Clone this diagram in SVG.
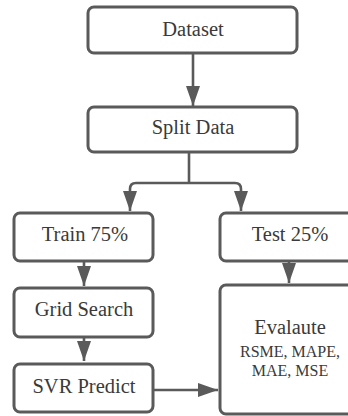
<svg xmlns="http://www.w3.org/2000/svg" width="348" height="416" viewBox="0 0 348 416">
  <style>
    .box { fill: #ffffff; stroke: #5a5a5a; stroke-width: 3; }
    .lbl { font-size: 20.5px; fill: #3a3a3a; text-anchor: middle; }
    .sub { font-size: 16px; fill: #3a3a3a; text-anchor: middle; }
    .wire { fill: none; stroke: #5a5a5a; stroke-width: 2.6; }
  </style>
  <defs>
    <marker id="head" viewBox="0 0 20 14" refX="20" refY="7" markerWidth="20" markerHeight="14" markerUnits="userSpaceOnUse" orient="auto">
      <path d="M0,0 L20,7 L0,14 Z" fill="#5a5a5a"/>
    </marker>
  </defs>
  <rect width="348" height="416" fill="#ffffff"/>

  <g id="connectors">
    <path class="wire" d="M193,53 V106" marker-end="url(#head)"/>
    <path class="wire" d="M189,152 V183"/>
    <path class="wire" d="M189,183 H136 Q130,183 130,189 V211" marker-end="url(#head)"/>
    <path class="wire" d="M189,183 H235 Q241,183 241,189 V211" marker-end="url(#head)"/>
    <path class="wire" d="M84,261 V286" marker-end="url(#head)"/>
    <path class="wire" d="M84,337 V361" marker-end="url(#head)"/>
    <path class="wire" d="M289,261 V283" marker-end="url(#head)"/>
    <path class="wire" d="M153,390 H218" marker-end="url(#head)"/>
  </g>

  <g id="nodes" font-family="Liberation Serif, Times New Roman, serif">
    <g id="dataset">
      <rect class="box" x="88" y="7" width="209" height="46" rx="6"/>
      <text class="lbl" x="193" y="36">Dataset</text>
    </g>
    <g id="split-data">
      <rect class="box" x="88" y="107" width="209" height="45" rx="6"/>
      <text class="lbl" x="193" y="134">Split Data</text>
    </g>
    <g id="train">
      <rect class="box" x="14" y="213" width="139" height="48" rx="6"/>
      <text class="lbl" x="85" y="241">Train 75%</text>
    </g>
    <g id="test">
      <rect class="box" x="220" y="213" width="140" height="48" rx="6"/>
      <text class="lbl" x="290" y="241">Test 25%</text>
    </g>
    <g id="grid-search">
      <rect class="box" x="14" y="288" width="139" height="49" rx="6"/>
      <text class="lbl" x="84" y="316">Grid Search</text>
    </g>
    <g id="svr-predict">
      <rect class="box" x="14" y="364" width="139" height="48" rx="6"/>
      <text class="lbl" x="84" y="393">SVR Predict</text>
    </g>
    <g id="evaluate">
      <rect class="box" x="220" y="285" width="140" height="129" rx="6"/>
      <text class="lbl" x="290" y="334">Evalaute</text>
      <text class="sub" x="290" y="357">RSME, MAPE,</text>
      <text class="sub" x="290" y="376">MAE, MSE</text>
    </g>
  </g>
</svg>
